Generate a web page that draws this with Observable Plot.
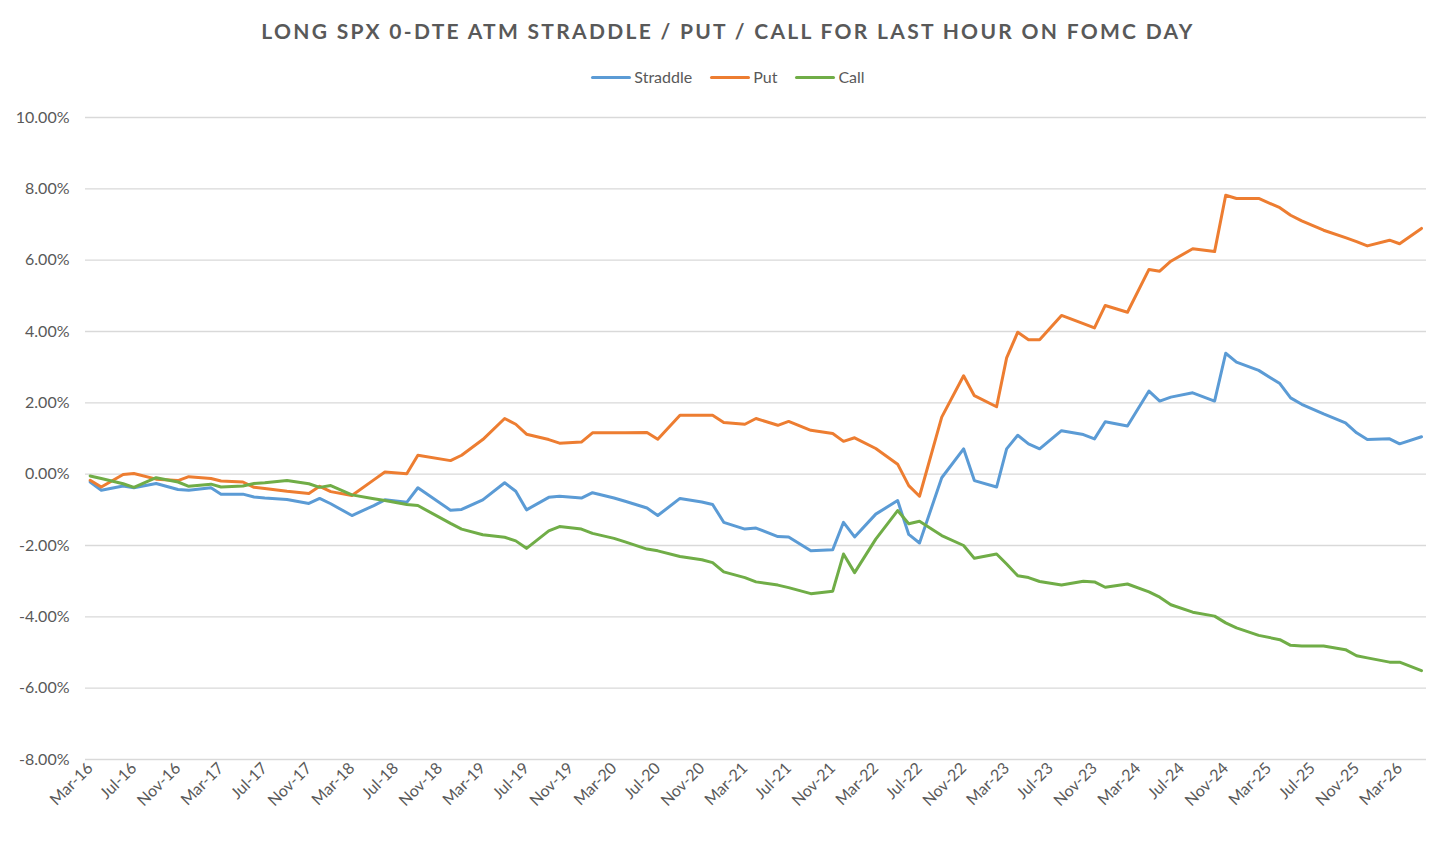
<!DOCTYPE html>
<html>
<head>
<meta charset="utf-8">
<script src="https://cdn.jsdelivr.net/npm/d3@7"></script>
<script src="https://cdn.jsdelivr.net/npm/@observablehq/plot@0.6"></script>
<style>
  html, body { margin: 0; padding: 0; background: #fff; overflow: hidden; }
  #header { position: relative; width: 1456px; height: 95px; font-family: Lato, "Open Sans", sans-serif; }
  #title { position: absolute; top: 18px; left: 0; width: 1456px; text-align: center;
           font-size: 21px; line-height: 25px; font-weight: 700; letter-spacing: 2.3px; color: #595959; }
  #legend { position: absolute; top: 67px; left: 0; width: 1456px; display: flex; justify-content: center;
            font-size: 16px; line-height: 20px; color: #595959; }
  .item { display: flex; align-items: center; margin: 0 9px; }
  .swatch { width: 40px; height: 3px; border-radius: 2px; margin-right: 3px; }
</style>
</head>
<body>
<div id="header">
  <div id="title">LONG SPX 0-DTE ATM STRADDLE / PUT / CALL FOR LAST HOUR ON FOMC DAY</div>
  <div id="legend"></div>
</div>
<div id="chart"></div>
<script>
// ---- data (percent) ----
const dates = [
  "2016-03","2016-04","2016-06","2016-07","2016-09","2016-11","2016-12","2017-02","2017-03","2017-05",
  "2017-06","2017-07","2017-09","2017-11","2017-12","2018-01","2018-03","2018-05","2018-06","2018-08",
  "2018-09","2018-12","2019-01","2019-03","2019-05","2019-06","2019-07","2019-09","2019-10","2019-12",
  "2020-01","2020-03","2020-04","2020-06","2020-07","2020-09","2020-11","2020-12","2021-01","2021-03",
  "2021-04","2021-06","2021-07","2021-09","2021-11","2021-12","2022-01","2022-03","2022-05","2022-06",
  "2022-07","2022-09","2022-11","2022-12","2023-02","2023-03","2023-04","2023-05","2023-06","2023-08",
  "2023-10","2023-11","2023-12","2024-02","2024-04","2024-05","2024-06","2024-08","2024-10","2024-11",
  "2024-12","2025-02","2025-04","2025-05","2025-06","2025-08","2025-10","2025-11","2025-12","2026-02",
  "2026-03","2026-05"
];
const straddle = [
  -0.22,-0.45,-0.33,-0.38,-0.26,-0.43,-0.45,-0.38,-0.56,-0.56,
  -0.64,-0.67,-0.71,-0.82,-0.68,-0.83,-1.16,-0.88,-0.72,-0.79,
  -0.38,-1.01,-0.99,-0.72,-0.24,-0.48,-1.00,-0.65,-0.62,-0.67,
  -0.52,-0.67,-0.76,-0.95,-1.16,-0.68,-0.78,-0.85,-1.35,-1.54,
  -1.51,-1.75,-1.76,-2.15,-2.12,-1.35,-1.76,-1.12,-0.74,-1.69,
  -1.93,-0.10,0.71,-0.18,-0.36,0.71,1.09,0.85,0.71,1.22,
  1.11,0.99,1.47,1.35,2.33,2.05,2.16,2.28,2.05,3.39,
  3.14,2.91,2.54,2.14,1.96,1.69,1.44,1.16,0.97,0.99,
  0.85,1.05
];
const put = [
  -0.17,-0.36,-0.01,0.02,-0.14,-0.18,-0.07,-0.12,-0.19,-0.22,
  -0.37,-0.40,-0.48,-0.54,-0.34,-0.49,-0.60,-0.16,0.06,0.01,
  0.53,0.38,0.53,0.97,1.56,1.40,1.12,0.97,0.87,0.90,
  1.16,1.16,1.16,1.17,0.98,1.65,1.65,1.65,1.45,1.40,
  1.56,1.37,1.48,1.23,1.14,0.92,1.02,0.72,0.28,-0.32,
  -0.62,1.60,2.76,2.20,1.89,3.26,3.98,3.77,3.77,4.45,
  4.22,4.10,4.73,4.54,5.74,5.69,5.97,6.32,6.24,7.82,
  7.73,7.73,7.47,7.26,7.10,6.84,6.63,6.52,6.40,6.56,
  6.46,6.89
];
const call = [
  -0.05,-0.12,-0.27,-0.37,-0.10,-0.22,-0.34,-0.28,-0.36,-0.33,
  -0.26,-0.24,-0.18,-0.27,-0.37,-0.32,-0.58,-0.69,-0.74,-0.85,
  -0.88,-1.38,-1.54,-1.70,-1.77,-1.87,-2.08,-1.59,-1.47,-1.54,
  -1.66,-1.80,-1.90,-2.10,-2.15,-2.31,-2.40,-2.48,-2.74,-2.90,
  -3.02,-3.11,-3.18,-3.35,-3.28,-2.24,-2.76,-1.82,-1.02,-1.39,
  -1.32,-1.72,-2.00,-2.36,-2.24,-2.52,-2.85,-2.90,-3.01,-3.11,
  -3.00,-3.02,-3.17,-3.08,-3.30,-3.45,-3.66,-3.87,-3.98,-4.17,
  -4.31,-4.52,-4.64,-4.80,-4.82,-4.82,-4.92,-5.09,-5.15,-5.27,
  -5.27,-5.51
];
const seriesNames = ["Straddle", "Put", "Call"];
const seriesColors = ["#5B9BD5", "#ED7D31", "#70AD47"];
const yTicks = [-8, -6, -4, -2, 0, 2, 4, 6, 8, 10];
const xTicks = [
  "2016-03","2016-07","2016-11","2017-03","2017-07","2017-11","2018-03","2018-07","2018-11",
  "2019-03","2019-07","2019-11","2020-03","2020-07","2020-11","2021-03","2021-07","2021-11",
  "2022-03","2022-07","2022-11","2023-03","2023-07","2023-11","2024-03","2024-07","2024-11",
  "2025-03","2025-07","2025-11","2026-03"
];

// ---- build table ----
const parse = d3.utcParse("%Y-%m");
const valuesBySeries = [straddle, put, call];
const rows = seriesNames.flatMap((name, s) =>
  dates.map((d, i) => ({ date: parse(d), value: valuesBySeries[s][i], series: name })));

// ---- legend ----
const legend = document.getElementById("legend");
seriesNames.forEach((name, i) => {
  const item = document.createElement("div");
  item.className = "item";
  item.innerHTML = `<span class="swatch" style="background:${seriesColors[i]}"></span><span>${name}</span>`;
  legend.appendChild(item);
});

// ---- chart ----
const chart = Plot.plot({
  width: 1456,
  height: 747,
  marginLeft: 85,
  marginRight: 30,
  marginTop: 22,
  marginBottom: 83,
  style: { fontFamily: "Lato, 'Open Sans', sans-serif", background: "#fff" },
  x: { type: "utc", domain: [new Date(Date.UTC(2016, 1, 17)), new Date(Date.UTC(2026, 4, 15))] },
  y: { domain: [-8, 10] },
  color: { domain: seriesNames, range: seriesColors },
  marks: [
    Plot.gridY(yTicks, { stroke: "#d9d9d9", strokeOpacity: 1, strokeWidth: 1.3 }),
    Plot.axisY(yTicks, {
      tickSize: 0, tickPadding: 16, fontSize: 16, fill: "#595959",
      tickFormat: d => d.toFixed(2) + "%", label: null
    }),
    Plot.axisX(xTicks.map(parse), {
      tickSize: 0, tickPadding: 6, tickRotate: -45, fontSize: 16, fill: "#595959",
      tickFormat: d3.utcFormat("%b-%y"), label: null
    }),
    Plot.line(rows, {
      x: "date", y: "value", z: "series", stroke: "series",
      strokeWidth: 3, strokeLinejoin: "round", strokeLinecap: "round"
    })
  ]
});
document.getElementById("chart").appendChild(chart);
</script>
</body>
</html>
